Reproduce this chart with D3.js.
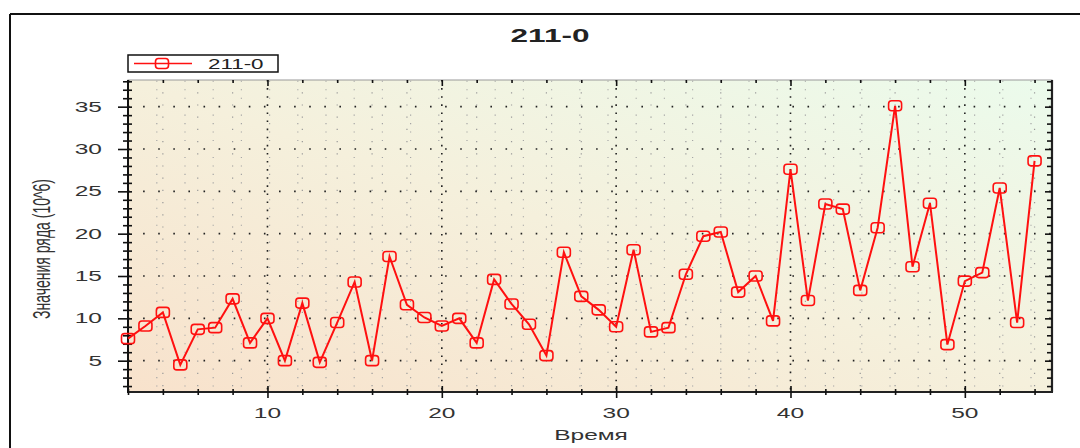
<!DOCTYPE html>
<html lang="en">
<head>
<meta charset="UTF-8">
<title>211-0</title>
<script src="https://d3js.org/d3.v7.min.js"></script>
<style>
    body { margin: 0; background: #fff; font-family: "Liberation Sans", Arial, sans-serif; }
    .tick-label { font-size: 14px; fill: #333; }
    .axis path { display: none; }
    .axis line { stroke: #111; stroke-width: 1.6; }
</style>
</head>
<body>
<svg width="1080" height="448"></svg>
<script>
    // series "211-0"
    const times = d3.range(2, 55);
    const values = [
        7.6, 9.1, 10.7, 4.5, 8.7, 8.9, 12.3, 7.1, 10.0, 5.0,
        11.8, 4.8, 9.5, 14.3, 5.0, 17.3, 11.6, 10.1, 9.1, 10.0,
        7.1, 14.6, 11.7, 9.3, 5.6, 17.8, 12.6, 11.0, 9.0, 18.1,
        8.4, 8.9, 15.2, 19.7, 20.2, 13.1, 15.0, 9.7, 27.6, 12.1,
        23.5, 22.9, 13.3, 20.7, 35.1, 16.1, 23.6, 6.9, 14.4, 15.4,
        25.4, 9.5, 28.6
    ];
    const xMajor = [10, 20, 30, 40, 50];
    const yMajor = [5, 10, 15, 20, 25, 30, 35];
    const title = "211-0";
    const xTitle = "Время";
    const yTitle = "Значения ряда (10^6)";

    const data = times.map((t, i) => ({ t: t, v: values[i] }));

    const L = 128, R = 1052, T = 80, B = 392;
    const SX = 1.75; // text in the original is drawn wide
    const x = d3.scaleLinear().domain([2, 55]).range([L, R]);
    const y = d3.scaleLinear().domain([1.3, 38.15]).range([B, T]);

    const xMinor = d3.range(2, 55, 2).filter(d => !xMajor.includes(d));
    const yMinor = d3.range(2, 39, 1).filter(d => !yMajor.includes(d));

    const svg = d3.select("svg");

    // outer frame
    svg.append("line").attr("x1", 10).attr("x2", 1080).attr("y1", 14).attr("y2", 14)
       .attr("stroke", "#111").attr("stroke-width", 2);
    svg.append("line").attr("x1", 10).attr("x2", 10).attr("y1", 14).attr("y2", 448)
       .attr("stroke", "#111").attr("stroke-width", 2);

    // title
    svg.append("text").attr("transform", `translate(550,41.5) scale(${SX},1)`).attr("text-anchor", "middle")
       .attr("font-size", 18).attr("font-weight", "bold").attr("fill", "#222").text(title);

    // plot background
    const defs = svg.append("defs");
    const grad = defs.append("linearGradient").attr("id", "bg")
        .attr("x1", "0%").attr("y1", "100%").attr("x2", "100%").attr("y2", "0%");
    grad.append("stop").attr("offset", "0%").attr("stop-color", "#f8e2cc");
    grad.append("stop").attr("offset", "50%").attr("stop-color", "#f5f0dc");
    grad.append("stop").attr("offset", "100%").attr("stop-color", "#ebfbec");
    svg.append("rect").attr("x", L).attr("y", T).attr("width", R - L).attr("height", B - T)
       .attr("fill", "url(#bg)").attr("stroke", "#999").attr("stroke-width", 1);

    // grid
    const grid = svg.append("g");
    grid.selectAll(".gxm").data(xMinor).enter().append("line")
        .attr("x1", d => x(d)).attr("x2", d => x(d)).attr("y1", T).attr("y2", B)
        .attr("stroke", "#999").attr("stroke-width", 1.2).attr("stroke-dasharray", "1.2,11");
    grid.selectAll(".gym").data(yMinor).enter().append("line")
        .attr("x1", L).attr("x2", R).attr("y1", d => y(d)).attr("y2", d => y(d))
        .attr("stroke", "#a5a5a5").attr("stroke-width", 1.1).attr("stroke-dasharray", "1.2,27");
    grid.selectAll(".gx").data(xMajor).enter().append("line")
        .attr("x1", d => x(d)).attr("x2", d => x(d)).attr("y1", T).attr("y2", B)
        .attr("stroke", "#222").attr("stroke-width", 1.6).attr("stroke-dasharray", "1.6,6.5");
    grid.selectAll(".gy").data(yMajor).enter().append("line")
        .attr("x1", L).attr("x2", R).attr("y1", d => y(d)).attr("y2", d => y(d))
        .attr("stroke", "#222").attr("stroke-width", 1.6).attr("stroke-dasharray", "1.6,13.5");

    // axes lines
    svg.append("line").attr("x1", L).attr("x2", L).attr("y1", T).attr("y2", B + 1)
       .attr("stroke", "#111").attr("stroke-width", 2);
    svg.append("line").attr("x1", L).attr("x2", R + 1).attr("y1", B).attr("y2", B)
       .attr("stroke", "#222").attr("stroke-width", 2.2);
    svg.append("line").attr("x1", R).attr("x2", R).attr("y1", T).attr("y2", B)
       .attr("stroke", "#222").attr("stroke-width", 2.2);

    // ticks (crossing the axis on left/bottom, inside on top/right)
    function ticks(gen, tx, ty) {
        svg.append("g").attr("class", "axis").attr("transform", `translate(${tx},${ty})`)
           .call(gen.tickFormat(""));
    }
    ticks(d3.axisBottom(x).tickValues(xMajor).tickSize(6), 0, B);
    ticks(d3.axisBottom(x).tickValues(xMajor).tickSize(-6), 0, B);
    ticks(d3.axisBottom(x).tickValues(xMinor).tickSize(3), 0, B);
    ticks(d3.axisBottom(x).tickValues(xMinor).tickSize(-3), 0, B);
    ticks(d3.axisTop(x).tickValues(xMajor).tickSize(-6), 0, T);
    ticks(d3.axisTop(x).tickValues(xMinor).tickSize(-3), 0, T);
    ticks(d3.axisLeft(y).tickValues(yMajor).tickSize(10), L, 0);
    ticks(d3.axisLeft(y).tickValues(yMajor).tickSize(-4), L, 0);
    ticks(d3.axisLeft(y).tickValues(yMinor).tickSize(5), L, 0);
    ticks(d3.axisLeft(y).tickValues(yMinor).tickSize(-4), L, 0);
    ticks(d3.axisRight(y).tickValues(yMajor).tickSize(-7), R, 0);
    ticks(d3.axisRight(y).tickValues(yMinor).tickSize(-5), R, 0);

    // tick labels
    svg.selectAll(".xl").data(xMajor).enter().append("text").attr("class", "tick-label")
       .attr("transform", d => `translate(${x(d)},${B + 25.5}) scale(${SX},1)`)
       .attr("text-anchor", "middle").text(d => d);
    svg.selectAll(".yl").data(yMajor).enter().append("text").attr("class", "tick-label")
       .attr("transform", d => `translate(${L - 26},${y(d) + 5}) scale(${SX},1)`)
       .attr("text-anchor", "end").text(d => d);

    // axis titles
    svg.append("text").attr("transform", `translate(591,440) scale(${SX},1)`).attr("text-anchor", "middle")
       .attr("font-size", 14).attr("fill", "#333").text(xTitle);
    svg.append("text").attr("transform", `translate(50,${(T + B) / 2 + 13}) scale(${SX},1) rotate(-90)`)
       .attr("text-anchor", "middle").attr("font-size", 14).attr("fill", "#333").text(yTitle);

    // series
    const line = d3.line().x(d => x(d.t)).y(d => y(d.v));
    svg.append("path").datum(data).attr("d", line)
       .attr("fill", "none").attr("stroke", "#ff1010").attr("stroke-width", 2);
    svg.selectAll(".mk").data(data).enter().append("rect")
       .attr("x", d => x(d.t) - 6.5).attr("y", d => y(d.v) - 5)
       .attr("width", 13).attr("height", 10).attr("rx", 3)
       .attr("fill", "none").attr("stroke", "#ff1010").attr("stroke-width", 1.6);

    // legend
    const lg = svg.append("g");
    lg.append("rect").attr("x", 128).attr("y", 55).attr("width", 150).attr("height", 17)
      .attr("fill", "#fff").attr("stroke", "#111").attr("stroke-width", 1.5);
    lg.append("line").attr("x1", 134).attr("x2", 192).attr("y1", 63.5).attr("y2", 63.5)
      .attr("stroke", "#ff1010").attr("stroke-width", 1.6);
    lg.append("rect").attr("x", 155.5).attr("y", 58.5).attr("width", 13).attr("height", 10).attr("rx", 3)
      .attr("fill", "none").attr("stroke", "#ff1010").attr("stroke-width", 1.6);
    lg.append("text").attr("transform", `translate(208,68.5) scale(1.6,1)`)
      .attr("font-size", 14).attr("fill", "#222").text(title);
</script>
</body>
</html>
